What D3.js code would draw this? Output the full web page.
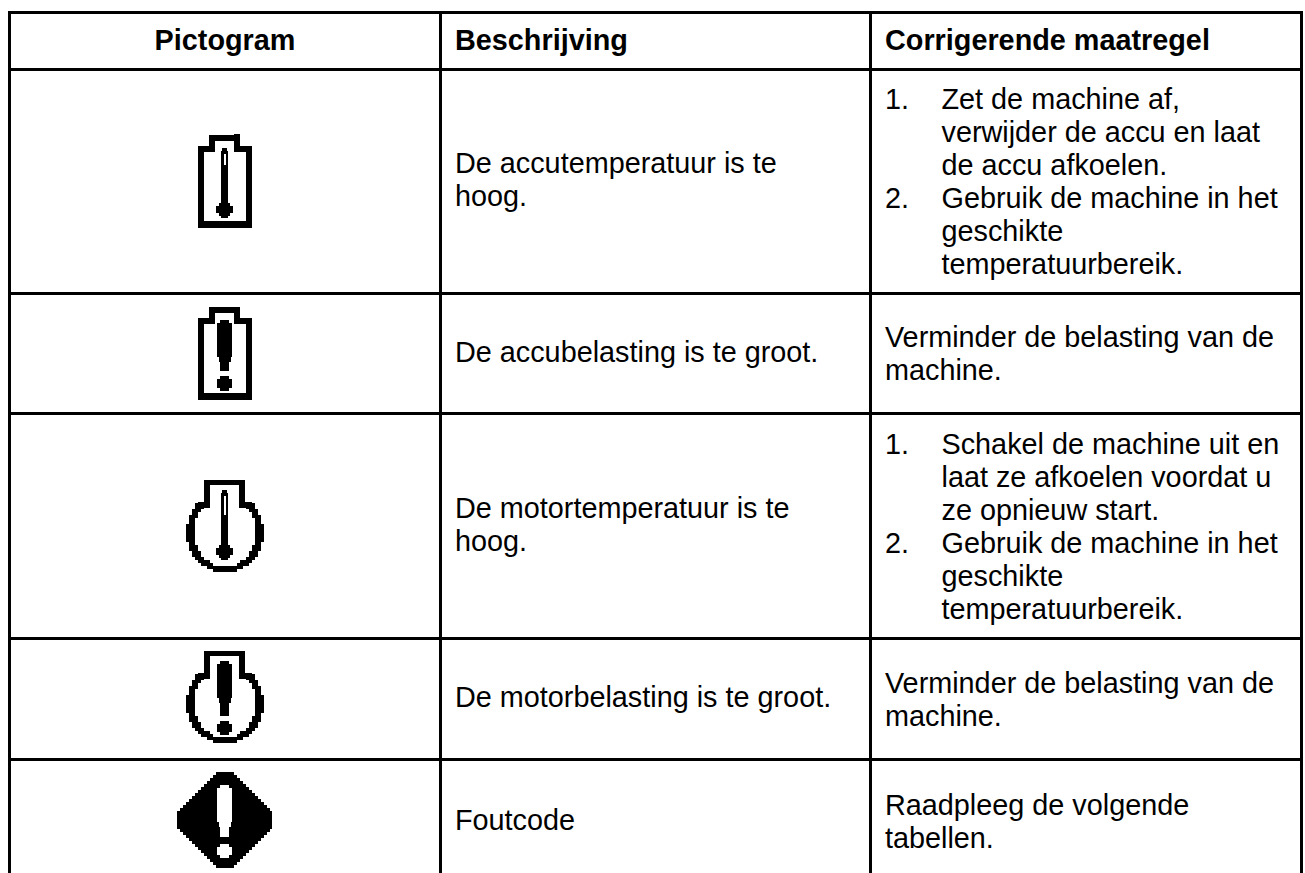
<!DOCTYPE html>
<html>
<head>
<meta charset="utf-8">
<script src="https://cdn.jsdelivr.net/npm/d3@7"></script>
<style>
  html, body { margin: 0; padding: 0; background: #fff; }
  svg { display: block; }
  text { font-family: "Liberation Sans", Arial, sans-serif; font-size: 28.8px; fill: #000; }
  .head { font-weight: bold; }
  .rule { stroke: #000; stroke-width: 3; shape-rendering: crispEdges; }
  .px { shape-rendering: crispEdges; }
</style>
</head>
<body>
<svg width="1305" height="873"></svg>
<script>
var headers = ["Pictogram", "Beschrijving", "Corrigerende maatregel"];
var pictograms = ["accuTemp", "accuLoad", "motorTemp", "motorLoad", "error"];
var descriptions = [
  ["De accutemperatuur is te", "hoog."],
  ["De accubelasting is te groot."],
  ["De motortemperatuur is te", "hoog."],
  ["De motorbelasting is te groot."],
  ["Foutcode"]
];
var actions = [
  [{n: "1.", t: "Zet de machine af,"}, {t: "verwijder de accu en laat"}, {t: "de accu afkoelen."},
   {n: "2.", t: "Gebruik de machine in het"}, {t: "geschikte"}, {t: "temperatuurbereik."}],
  [{t: "Verminder de belasting van de", flush: true}, {t: "machine.", flush: true}],
  [{n: "1.", t: "Schakel de machine uit en"}, {t: "laat ze afkoelen voordat u"}, {t: "ze opnieuw start."},
   {n: "2.", t: "Gebruik de machine in het"}, {t: "geschikte"}, {t: "temperatuurbereik."}],
  [{t: "Verminder de belasting van de", flush: true}, {t: "machine.", flush: true}],
  [{t: "Raadpleeg de volgende", flush: true}, {t: "tabellen.", flush: true}]
];

// table grid, measured on the page
var colLines = [9.5, 440.5, 870.5, 1301.5];
var rowLines = [12.5, 69.5, 293.5, 413.5, 638.5, 759.5];
var lastRowBottom = 884;
var lineH = 33, textX = [455, 885], listX = 941.5;

var svg = d3.select("svg");
var ink = svg.append("g").attr("class", "icons");
var grid = svg.append("g").attr("class", "grid");
var body = svg.append("g").attr("class", "body");

colLines.forEach(function(x) {
  grid.append("line").attr("class", "rule").attr("x1", x).attr("x2", x).attr("y1", 11).attr("y2", 873);
});
rowLines.forEach(function(y) {
  grid.append("line").attr("class", "rule").attr("x1", 8).attr("x2", 1303).attr("y1", y).attr("y2", y);
});

body.append("text").attr("class", "head").attr("x", (colLines[0] + colLines[1]) / 2).attr("y", 50)
  .attr("text-anchor", "middle").text(headers[0]);
body.append("text").attr("class", "head").attr("x", textX[0]).attr("y", 50).text(headers[1]);
body.append("text").attr("class", "head").attr("x", textX[1]).attr("y", 50).text(headers[2]);

var edges = rowLines.slice(1).concat([lastRowBottom]);
var rows = d3.pairs(edges).map(function(p, i) {
  return {mid: (p[0] + p[1]) / 2, desc: descriptions[i], act: actions[i], icon: pictograms[i]};
});

function baseline(mid, i, n, off) {
  return mid + off + (i - (n - 1) / 2) * lineH;
}

rows.forEach(function(r) {
  body.selectAll(null).data(r.desc).enter().append("text")
    .attr("x", textX[0])
    .attr("y", function(d, i) { return baseline(r.mid, i, r.desc.length, 8); })
    .text(function(d) { return d; });

  var g = body.append("g");
  r.act.forEach(function(d, i) {
    var y = baseline(r.mid, i, r.act.length, 10);
    if (d.n) g.append("text").attr("x", textX[1]).attr("y", y).text(d.n);
    g.append("text").attr("x", d.flush ? textX[1] : listX).attr("y", y).text(d.t);
  });
});

// --- pixel style pictograms ---
function block(x0, y0, x1, y1, fill) {
  ink.append("rect").attr("class", "px").attr("x", x0).attr("y", y0)
    .attr("width", x1 - x0).attr("height", y1 - y0).attr("fill", fill);
}

// ellipse painted as 3px rows, like the low res display icon
function stepEllipse(cx, cy, rx, ry, top, fill, snap) {
  for (var y = cy - ry; y < cy + ry; y += 3) {
    if (y + 3 <= top) continue;
    var dy = Math.abs(y + 1.5 - cy) / ry;
    if (dy >= 1) continue;
    var hw = snap(rx * Math.sqrt(1 - dy * dy) / 3) * 3;
    block(cx - hw, Math.max(y, top), cx + hw, y + 3, fill);
  }
}

function battery(top) {
  block(198, top + 11, 252, top + 93, "#000");
  block(209, top, 240, top + 11, "#000");
  block(204, top + 17, 246, top + 86, "#fff");
  block(215, top + 6, 234, top + 17, "#fff");
}

function motor(top) {
  var cy = top + 52;
  stepEllipse(224.5, cy, 38.5, 41, top + 22, "#000", Math.round);
  stepEllipse(224.5, cy, 32.5, 35, top + 28, "#fff", Math.floor);
  block(204, top, 245, top + 24, "#000");
  block(210, top + 5, 239, top + 32, "#fff");
}

function thermometer(top, bottom, boreLen) {
  block(222, top, 227, top + 3, "#000");
  block(221, top + 3, 228, bottom - 10, "#000");
  block(224, top + 6, 226, top + 6 + boreLen, "#fff");
  block(219, bottom - 15, 230, bottom - 12, "#000");
  block(216, bottom - 12, 233, bottom - 5, "#000");
  block(219, bottom - 5, 230, bottom - 2, "#000");
  block(221, bottom - 2, 228, bottom, "#000");
}

function exclamation(top, waist, neckEnd, dotTop, dotBottom, fill) {
  block(220, top, 229, top + 3, fill);
  block(217, top + 3, 232, waist, fill);
  block(218.5, waist, 230.5, waist + 5, fill);
  block(220, waist + 5, 229, neckEnd, fill);
  block(220, dotTop, 229, dotTop + 3, fill);
  block(217, dotTop + 3, 232, dotBottom - 3, fill);
  block(220, dotBottom - 3, 229, dotBottom, fill);
}

function errorSign(cx, cy) {
  for (var y = cy - 48; y < cy + 48; y += 3) {
    var dy = Math.abs(y + 1.5 - cy);
    var hw = Math.min(47.5, Math.round((56 - dy) / 3) * 3);
    block(cx - hw, y, cx + hw, y + 3, "#000");
  }
}

battery(135);
block(234, 134, 240, 135, "#000");
thermometer(148, 218, 11);
battery(307);
exclamation(320, 357, 371, 376, 391, "#000");
motor(480);
thermometer(490, 560, 19);
motor(651);
exclamation(661, 698, 716, 721, 735, "#000");
errorSign(224.5, 820);
exclamation(785, 822, 837, 844, 858, "#fff");
</script>
</body>
</html>
